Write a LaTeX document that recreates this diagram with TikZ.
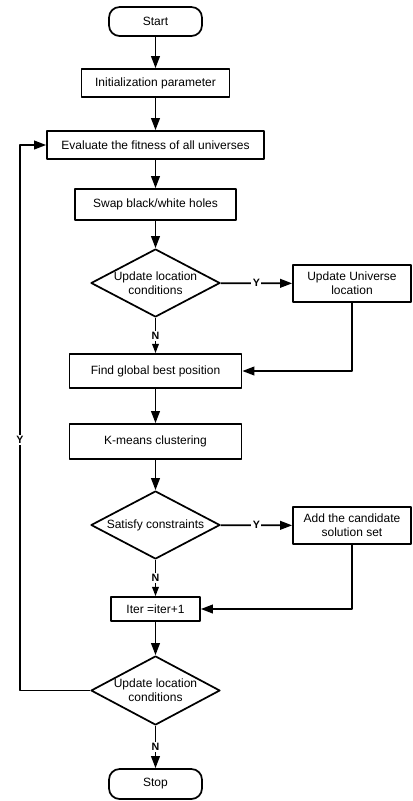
\documentclass[tikz,border=0pt]{standalone}
\usepackage{fontspec}
\setmainfont{Liberation Sans}
\usetikzlibrary{arrows.meta,shapes.geometric}

\begin{document}
\begin{tikzpicture}[
						x=0.75pt, y=-0.75pt,
						every node/.style={font=\fontsize{9}{10.5}\selectfont},
						line width=1.3pt,
						line join=round,
						terminal/.style={draw, rounded corners=8pt, minimum width=69.75pt, minimum height=21.75pt},
						process/.style={draw, minimum height=21pt, align=center},
						decision/.style={draw, diamond, minimum width=96.75pt, minimum height=51pt, inner sep=0pt},
						yn/.style={fill=white, inner sep=1pt, font=\fontsize{8}{9}\selectfont\bfseries},
						flow/.style={-{Triangle[length=9pt,width=6.5pt]}},
						flowsmall/.style={-{Triangle[length=7pt,width=5pt]}}
						]
						
						\useasboundingbox (0,0) rectangle (413,801);
						
						% Main column
						\node[terminal] (start) at (155.5,21.5) {Start};
						\node[process, minimum width=111pt] (init) at (155.5,83) {Initialization parameter};
						\node[process, minimum width=162.75pt] (eval) at (155.5,145) {Evaluate the fitness of all universes};
						\node[process, minimum width=120.75pt, minimum height=23.25pt] (swap) at (155.5,204.5) {Swap black/white holes};
						\node[decision, label={[align=center]center:{Update location\\conditions}}] (dec1) at (155.5,283) {};
						\node[process, minimum width=129pt, minimum height=25.5pt] (find) at (155.5,371) {Find global best position};
						\node[process, minimum width=129pt, minimum height=26.25pt] (kmeans) at (155.5,441.5) {K-means clustering};
						\node[decision, label={center:Satisfy constraints}] (dec2) at (155.5,525) {};
						\node[process, minimum width=66.75pt, minimum height=18pt] (iter) at (155.5,609) {Iter =iter+1};
						\node[decision, minimum height=51.75pt, label={[align=center]center:{Update location\\conditions}}] (dec3) at (155.5,690.5) {};
						\node[terminal, minimum height=22.5pt] (stop) at (155.5,784) {Stop};
						
						% Side boxes
						\node[process, minimum width=88.5pt, minimum height=27.75pt] (upd) at (352,283.5) {Update Universe\\location};
						\node[process, minimum width=88.5pt, minimum height=27.75pt] (add) at (352,525.5) {Add the candidate\\solution set};
						
						% Loop corner
						\coordinate (loop) at (20,690.5);
						
						% Arrows
						\draw[flow] (start) -- (init);
						\draw[flow] (init) -- (eval);
						\draw[flow] (eval) -- (swap);
						\draw[flow] (swap) -- (dec1);
						\draw[flow] (dec1) -- node[yn] {Y} (upd);
						\draw[flowsmall] (dec1) -- node[yn] {N} (find);
						\draw[flow] (upd) |- (find);
						\draw[flow] (find) -- (kmeans);
						\draw[flow] (kmeans) -- (dec2);
						\draw[flow] (dec2) -- node[yn] {Y} (add);
						\draw[flowsmall] (dec2) -- node[yn] {N} (iter);
						\draw[flow] (add) |- (iter);
						\draw[flow] (iter) -- (dec3);
						\draw[flow] (dec3) -- node[yn] {N} (stop);
						\draw[flow] (dec3.west) -- (loop) |- node[yn, pos=0.23] {Y} (eval.west);
						
					\end{tikzpicture}
\end{document}
